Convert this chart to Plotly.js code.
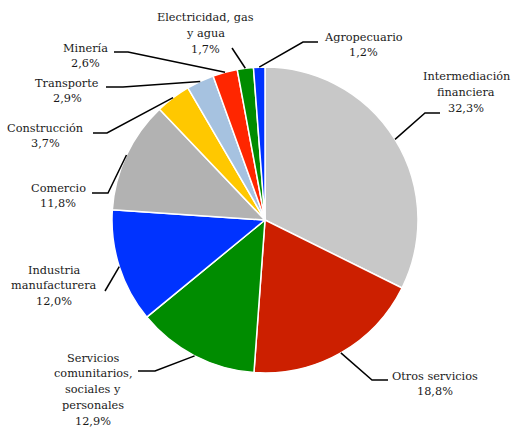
<!DOCTYPE html>
<html>
<head>
<meta charset="utf-8">
<script src="https://cdn.plot.ly/plotly-3.0.1.min.js"></script>
<style>html,body{margin:0;padding:0;background:#fff;}#chart{width:512px;height:430px;}</style>
</head>
<body>
<div id="chart"></div>
<script>
// ---- data ----
const categories = ['Intermediación<br>financiera', 'Otros servicios', 'Servicios<br>comunitarios,<br>sociales y<br>personales',
  'Industria<br>manufacturera', 'Comercio', 'Construcción', 'Transporte', 'Minería', 'Electricidad, gas<br>y agua', 'Agropecuario'];
const shares = [32.3, 18.8, 12.9, 12.0, 11.8, 3.7, 2.9, 2.6, 1.7, 1.2];
const sliceColors = ['#C8C8C8', '#CC1F00', '#008C00', '#0033FF', '#B2B2B2', '#FFC800', '#A6C2E0', '#FF2600', '#008C00', '#0033FF'];

// ---- layout (pixels) ----
const W = 512, H = 430;
const CX = 265, CY = 220, R = 153;
const LINE = 15.75;
const FONT = {family: 'DejaVu Serif', size: 11.3, color: '#1a1a1a'};
// label text first-line centre, elbow, end of leader line
const labelPos = [
  {tx: 466, ty: 77,  ex: 425, ey: 113, fx: 440, fy: 113},
  {tx: 435, ty: 376, ex: 372, ey: 380, fx: 388, fy: 380},
  {tx: 93,  ty: 358, ex: 155, ey: 371, fx: 138, fy: 371},
  {tx: 54,  ty: 270, ex: 105, ey: 291, fx: 105, fy: 291},
  {tx: 58,  ty: 188, ex: 108, ey: 193, fx: 92,  fy: 193},
  {tx: 45,  ty: 128, ex: 107, ey: 133, fx: 93,  fy: 133},
  {tx: 67,  ty: 83,  ex: 123, ey: 87,  fx: 106, fy: 87},
  {tx: 85,  ty: 48,  ex: 128, ey: 52,  fx: 114, fy: 52},
  {tx: 205, ty: 18,  ex: 232, ey: 48,  fx: 232, fy: 48},
  {tx: 363, ty: 37,  ex: 303, ey: 42,  fx: 318, fy: 42}
];

const px = x => x / W;
const py = y => 1 - y / H;
const fmt = v => v.toFixed(1).replace('.', ',') + '%';

const total = shares.reduce((a, b) => a + b, 0);
const annotations = [];
const shapes = [];
let cum = 0;
shares.forEach((v, i) => {
  const mid = (cum + v / 2) / total;
  cum += v;
  const ang = mid * 2 * Math.PI;
  const sx = CX + R * Math.sin(ang);
  const sy = CY - R * Math.cos(ang);
  const p = labelPos[i];
  shapes.push({
    type: 'path', xref: 'paper', yref: 'paper',
    path: `M ${px(sx)} ${py(sy)} L ${px(p.ex)} ${py(p.ey)} L ${px(p.fx)} ${py(p.fy)}`,
    line: {color: '#000', width: 1.5}
  });
  const lines = categories[i].split('<br>').concat([fmt(v)]);
  lines.forEach((t, k) => {
    annotations.push({
      xref: 'paper', yref: 'paper', x: px(p.tx), y: py(p.ty + k * LINE),
      xanchor: 'center', yanchor: 'middle', align: 'center', showarrow: false,
      text: t, font: FONT
    });
  });
});

const trace = {
  type: 'pie',
  values: shares,
  labels: categories,
  sort: false,
  direction: 'clockwise',
  rotation: 0,
  textinfo: 'none',
  hoverinfo: 'label+percent',
  marker: {colors: sliceColors, line: {color: '#fff', width: 1.5}},
  domain: {x: [px(CX - R), px(CX + R)], y: [py(CY + R), py(CY - R)]}
};

Plotly.newPlot('chart', [trace], {
  width: W, height: H,
  margin: {l: 0, r: 0, t: 0, b: 0},
  showlegend: false,
  paper_bgcolor: '#fff',
  annotations, shapes
}, {displayModeBar: false, staticPlot: true});
</script>
</body>
</html>
